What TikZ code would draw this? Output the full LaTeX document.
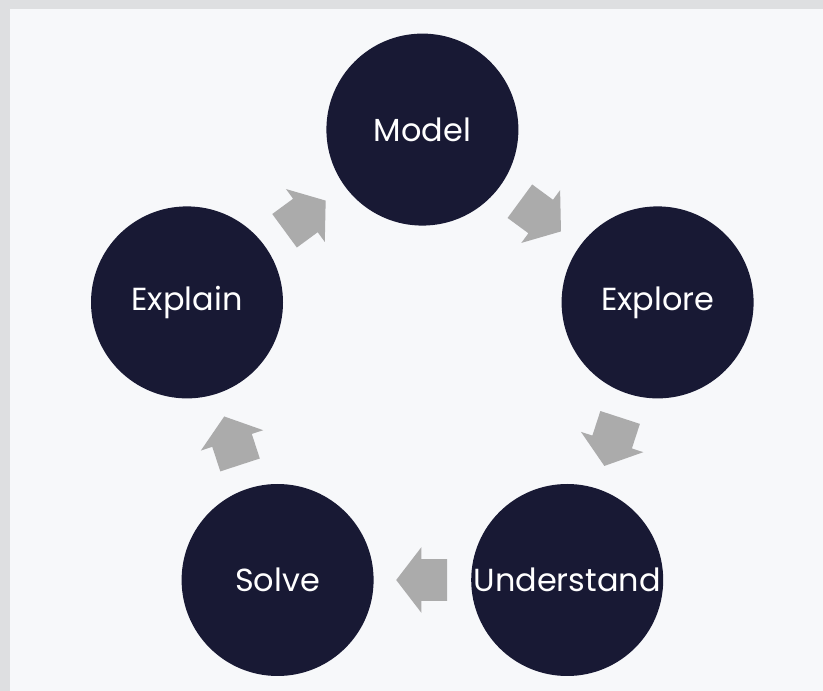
\documentclass[tikz,border=0pt]{standalone}
\usepackage{fontspec}
\setmainfont{Poppins}
\usetikzlibrary{shapes.arrows}

\definecolor{navy}{RGB}{24,25,52}
\definecolor{arrowgray}{RGB}{171,171,171}
\definecolor{panel}{RGB}{247,248,250}
\definecolor{framegray}{RGB}{222,223,225}

\begin{document}
\begin{tikzpicture}[
    stage/.style={circle, fill=navy, minimum size=4.8cm, inner sep=0pt, text=white, font=\fontsize{22.7}{27}\selectfont},
    flow/.style={single arrow, fill=arrowgray, minimum height=1.275cm, minimum width=1.625cm,
        inner xsep=0pt, inner ysep=0.5125cm, single arrow head extend=0.3cm, single arrow tip angle=105,
        pos=0.425, sloped, allow upside down}
]
    % Backdrop and panel
    \fill[framegray] (0,0) rectangle (20.575,-17.275);
    \fill[panel] (0.25,-0.225) rectangle (20.575,-17.275);

    % Stages on a pentagon
    \node[stage] (model) at (10.56,-3.24) {Model};
    \node[stage] (explore) at (16.44,-7.56) {Explore};
    \node[stage] (understand) at (14.18,-14.5) {Understand};
    \node[stage] (solve) at (6.94,-14.5) {Solve};
    \node[stage] (explain) at (4.675,-7.56) {Explain};

    % Cycle arrows between the stages
    \path (model) -- node[flow] (m2e) {} (explore);
    \path (explore) -- node[flow] (e2u) {} (understand);
    \path (understand) -- node[flow] (u2s) {} (solve);
    \path (solve) -- node[flow] (s2x) {} (explain);
    \path (explain) -- node[flow] (x2m) {} (model);
\end{tikzpicture}
\end{document}
